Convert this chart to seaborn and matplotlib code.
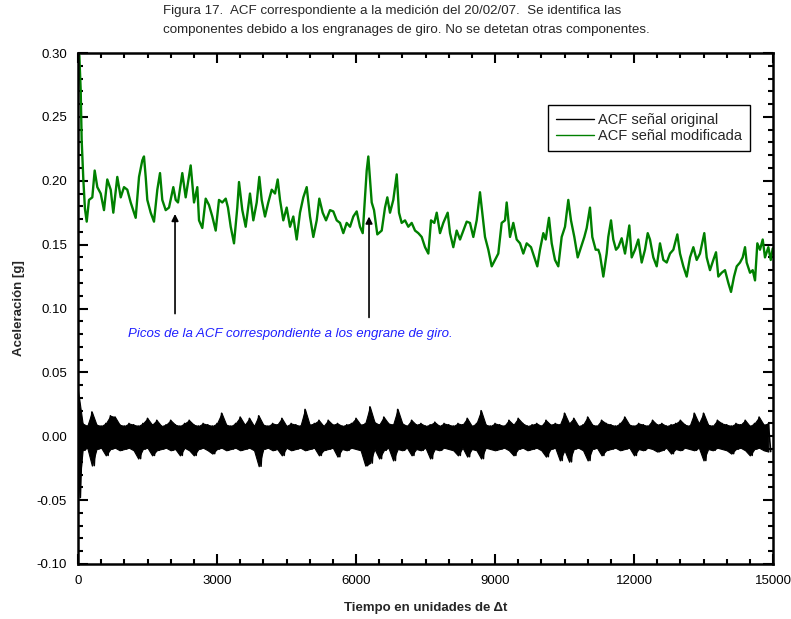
import numpy as np
import pandas as pd
import matplotlib
matplotlib.use("Agg")
import matplotlib.pyplot as plt
import seaborn as sns
from matplotlib.ticker import MultipleLocator, FormatStrFormatter

# ---------------- data ----------------
# ACF of the modified signal (green): lag, value
mod_lag = [0, 29, 58, 79, 115, 150, 188, 237, 309, 360, 417, 490, 561, 632, 706, 762,
           848, 922, 993, 1064, 1137, 1245, 1317, 1388, 1424, 1461, 1496, 1569, 1640,
           1712, 1770, 1819, 1893, 1964, 2057, 2109, 2158, 2251, 2324, 2432, 2504, 2575,
           2612, 2683, 2756, 2827, 2899, 2972, 3043, 3114, 3188, 3237, 3296, 3367, 3438,
           3475, 3546, 3619,
           3712, 3784, 3857, 3913, 3965, 4036, 4107, 4181, 4252, 4310, 4360, 4431, 4504,
           4576, 4647, 4720, 4791, 4863, 4936, 5007, 5079, 5152, 5208, 5281, 5353, 5439,
           5510, 5584, 5655, 5726, 5799, 5871, 5942, 6015, 6086, 6145, 6194, 6231, 6266,
           6302, 6339, 6389, 6460, 6555, 6626, 6676, 6734, 6805, 6879, 6928, 6986, 7058,
           7129, 7202, 7274, 7345, 7418,
           7490, 7561, 7619, 7690, 7742, 7813, 7884, 7979, 8029, 8100, 8173, 8245, 8316,
           8389, 8460, 8532, 8605, 8676, 8726, 8784, 8856, 8929, 9000, 9071, 9144, 9216,
           9252, 9324, 9395, 9468, 9540, 9611, 9684, 9777, 9849, 9913, 9971, 10043, 10094,
           10165, 10224, 10295, 10366, 10439, 10511, 10582, 10640, 10712, 10785, 10856,
           10928, 10979, 11050, 11100, 11173, 11230,
           11266, 11338, 11410, 11445, 11504, 11553, 11612, 11661, 11734, 11806, 11899,
           11950, 12022, 12093, 12166, 12237, 12296, 12345, 12417, 12490, 12561, 12633,
           12706, 12777, 12849, 12935, 12993, 13065, 13137, 13209, 13281, 13353, 13424,
           13517, 13569, 13640, 13712, 13770, 13820, 13893, 13964, 14036, 14094, 14159,
           14217, 14288, 14346, 14396, 14432, 14504, 14562, 14612, 14662, 14719, 14778,
           14827, 14900, 14951, 14994]
mod_val = [0.300, 0.298, 0.271, 0.232, 0.201, 0.178, 0.168, 0.185, 0.187, 0.208, 0.195,
           0.190, 0.177, 0.201, 0.193, 0.175, 0.203, 0.187, 0.195, 0.193, 0.183, 0.171,
           0.203, 0.216, 0.219, 0.203, 0.185, 0.175, 0.168, 0.193, 0.206, 0.185, 0.177,
           0.179, 0.195, 0.185, 0.183, 0.206, 0.187, 0.212, 0.183, 0.195, 0.169, 0.163,
           0.186, 0.181, 0.172, 0.161, 0.185, 0.183, 0.186, 0.179, 0.164, 0.151, 0.179,
           0.199, 0.177, 0.164,
           0.190, 0.169, 0.183, 0.203, 0.185, 0.172, 0.183, 0.193, 0.190, 0.201, 0.185,
           0.169, 0.179, 0.164, 0.172, 0.154, 0.175, 0.187, 0.195, 0.172, 0.156, 0.169,
           0.186, 0.175, 0.169, 0.177, 0.176, 0.169, 0.167, 0.159, 0.167, 0.164, 0.172,
           0.176, 0.164, 0.159, 0.187, 0.208, 0.219, 0.201, 0.183, 0.177, 0.158, 0.161,
           0.179, 0.187, 0.175, 0.185, 0.205, 0.175, 0.167, 0.169, 0.164, 0.167, 0.161,
           0.159, 0.156,
           0.148, 0.143, 0.169, 0.167, 0.175, 0.159, 0.167, 0.175, 0.159, 0.148, 0.161,
           0.154, 0.161, 0.168, 0.167, 0.156, 0.169, 0.191, 0.175, 0.156, 0.146, 0.133,
           0.138, 0.143, 0.167, 0.169, 0.183, 0.156, 0.167, 0.154, 0.151, 0.143, 0.151,
           0.148, 0.140, 0.133, 0.146, 0.159, 0.154, 0.171, 0.151, 0.138, 0.133, 0.156,
           0.164, 0.185, 0.169, 0.156, 0.140, 0.148, 0.156, 0.163, 0.179, 0.156, 0.146,
           0.146,
           0.142, 0.125, 0.143, 0.156, 0.169, 0.154, 0.146, 0.148, 0.155, 0.143, 0.165,
           0.140, 0.146, 0.154, 0.136, 0.146, 0.159, 0.154, 0.140, 0.133, 0.151, 0.138,
           0.136, 0.143, 0.146, 0.158, 0.143, 0.133, 0.125, 0.140, 0.148, 0.138, 0.143,
           0.159, 0.140, 0.130, 0.138, 0.144, 0.125, 0.128, 0.130, 0.120, 0.113, 0.125,
           0.133, 0.136, 0.140, 0.148, 0.136, 0.128, 0.130, 0.122, 0.151, 0.146, 0.154,
           0.140, 0.148, 0.138, 0.147]

# ACF of the original signal (black): upper peaks (at lags 0,100,...) and
# lower peaks (at lags 50,150,...) read from the dense band
orig_hi = [0.036, 0.010, 0.008, 0.019, 0.009, 0.008, 0.010, 0.016, 0.015, 0.009,
           0.008, 0.010, 0.009, 0.008, 0.010, 0.014, 0.009, 0.0125, 0.008, 0.009,
           0.0125, 0.009, 0.008, 0.010, 0.0125, 0.009, 0.008, 0.010, 0.009, 0.008,
           0.010, 0.018, 0.009, 0.008, 0.010, 0.015, 0.009, 0.014, 0.008, 0.016,
           0.009, 0.008, 0.010, 0.009, 0.014, 0.008, 0.010, 0.009, 0.008, 0.021,
           0.009, 0.010, 0.0125, 0.008, 0.0125, 0.009, 0.010, 0.008, 0.009, 0.010,
           0.014, 0.009, 0.010, 0.023, 0.011, 0.009, 0.015, 0.010, 0.009, 0.021,
           0.010, 0.008, 0.0125, 0.009, 0.010, 0.008, 0.009, 0.011, 0.008, 0.010,
           0.009, 0.008, 0.010, 0.009, 0.014, 0.008, 0.010, 0.020, 0.009, 0.008,
           0.010, 0.009, 0.008, 0.0125, 0.009, 0.014, 0.010, 0.008, 0.009, 0.010,
           0.008, 0.0125, 0.009, 0.010, 0.009, 0.018, 0.010, 0.014, 0.008, 0.009,
           0.015, 0.009, 0.008, 0.0125, 0.010, 0.009, 0.008, 0.010, 0.015, 0.009,
           0.008, 0.010, 0.009, 0.008, 0.0125, 0.009, 0.010, 0.008, 0.009, 0.010,
           0.0125, 0.009, 0.008, 0.018, 0.010, 0.018, 0.009, 0.008, 0.0125, 0.010,
           0.009, 0.008, 0.010, 0.009, 0.0125, 0.008, 0.010, 0.015, 0.009, 0.010]
orig_lo = [-0.048, -0.011, -0.009, -0.023, -0.010, -0.009, -0.015, -0.010, -0.009, -0.011,
           -0.010, -0.009, -0.011, -0.0175, -0.010, -0.009, -0.015, -0.011, -0.010, -0.009,
           -0.011, -0.010, -0.015, -0.009, -0.011, -0.015, -0.010, -0.009, -0.011, -0.0136,
           -0.010, -0.009, -0.011, -0.010, -0.009, -0.011, -0.010, -0.009, -0.011, -0.0235,
           -0.010, -0.009, -0.011, -0.010, -0.015, -0.009, -0.011, -0.010, -0.009, -0.011,
           -0.010, -0.009, -0.015, -0.011, -0.010, -0.009, -0.016, -0.010, -0.011, -0.009,
           -0.010, -0.011, -0.023, -0.021, -0.010, -0.0175, -0.011, -0.009, -0.019, -0.010,
           -0.011, -0.009, -0.015, -0.010, -0.011, -0.009, -0.0175, -0.010, -0.011, -0.009,
           -0.010, -0.011, -0.015, -0.009, -0.016, -0.010, -0.011, -0.0175, -0.009, -0.010,
           -0.011, -0.010, -0.009, -0.011, -0.015, -0.010, -0.009, -0.011, -0.010, -0.009,
           -0.011, -0.016, -0.010, -0.009, -0.019, -0.011, -0.020, -0.010, -0.009, -0.011,
           -0.019, -0.010, -0.009, -0.015, -0.011, -0.010, -0.009, -0.011, -0.010, -0.009,
           -0.015, -0.010, -0.011, -0.009, -0.010, -0.012, -0.011, -0.009, -0.0136, -0.010,
           -0.011, -0.009, -0.010, -0.011, -0.009, -0.019, -0.010, -0.011, -0.009, -0.010,
           -0.011, -0.0136, -0.010, -0.009, -0.011, -0.015, -0.010, -0.009, -0.011, -0.012]

series_names = ["ACF señal original", "ACF señal modificada"]
series_colors = ["#000000", "#008000"]

title_text = ("Figura 17.  ACF correspondiente a la medición del 20/02/07.  Se identifica las\n"
              "componentes debido a los engranages de giro. No se detetan otras componentes.")
note_text = "Picos de la ACF correspondiente a los engrane de giro."
arrow_lags = [2094, 6281]
arrow_tips = [0.174, 0.172]
arrow_tails = [0.096, 0.093]

# ---------------- build long table ----------------
n = len(orig_hi)
hi_lag = np.arange(n) * 100
lo_lag = hi_lag + 50
orig_lag = np.empty(2 * n)
orig_val = np.empty(2 * n)
orig_lag[0::2] = hi_lag
orig_lag[1::2] = lo_lag
orig_val[0::2] = orig_hi
orig_val[1::2] = orig_lo

df = pd.concat([
    pd.DataFrame({"lag": orig_lag, "val": orig_val, "serie": series_names[0]}),
    pd.DataFrame({"lag": mod_lag, "val": mod_val, "serie": series_names[1]}),
], ignore_index=True)

# ---------------- plot ----------------
sns.set_style("ticks")
plt.rcParams["font.family"] = ["Liberation Sans", "DejaVu Sans"]

fig = plt.figure(figsize=(7.91, 6.19), dpi=100)
ax = fig.add_axes([78 / 791, 1 - 564 / 619, 695 / 791, 511 / 619])

d0 = df[df.serie == series_names[0]]
sns.lineplot(data=d0, x="lag", y="val", color=series_colors[0], estimator=None,
             sort=False, linewidth=1.2, label=series_names[0], ax=ax)
# dense oscillation: fill between the upper and lower peaks so the band reads solid
ax.fill_between(hi_lag, orig_hi, orig_lo, color=series_colors[0], linewidth=0.8,
                edgecolor=series_colors[0])
sns.lineplot(data=df[df.serie == series_names[1]], x="lag", y="val",
             color=series_colors[1], estimator=None, sort=False, linewidth=1.7,
             label=series_names[1], ax=ax)

ax.set_xlim(0, 15000)
ax.set_ylim(-0.10, 0.30)
ax.xaxis.set_major_locator(MultipleLocator(3000))
ax.xaxis.set_minor_locator(MultipleLocator(500))
ax.yaxis.set_major_locator(MultipleLocator(0.05))
ax.yaxis.set_minor_locator(MultipleLocator(0.01))
ax.yaxis.set_major_formatter(FormatStrFormatter("%.2f"))
ax.tick_params(which="both", direction="in", top=True, right=True, width=1.5,
               colors="black", labelsize=9.5, pad=8)
ax.tick_params(which="major", length=7)
ax.tick_params(which="minor", length=3.5)
for s in ax.spines.values():
    s.set_linewidth(1.8)
    s.set_color("black")

ax.set_xlabel("Tiempo en unidades de Δt", fontsize=9.5, fontweight="bold", labelpad=11)
ax.set_ylabel("Aceleración [g]", fontsize=9.5, fontweight="bold", labelpad=8)

leg = ax.legend(loc="upper right", bbox_to_anchor=(0.967, 0.898), fontsize=10.5,
                frameon=True, fancybox=False, edgecolor="black", framealpha=1,
                handlelength=2.6, borderpad=0.55, labelspacing=0.15, handletextpad=0.25,
                borderaxespad=0)
leg.get_frame().set_linewidth(1.0)
for line in leg.get_lines():
    line.set_linewidth(1.0)

for xl, yt, yb in zip(arrow_lags, arrow_tips, arrow_tails):
    ax.annotate("", xy=(xl, yt), xytext=(xl, yb),
                arrowprops=dict(arrowstyle="-|>", color="black", lw=1.2,
                                mutation_scale=10, shrinkA=0, shrinkB=0))
ax.text(1079, 0.080, note_text, fontsize=9.5, style="italic", color="#1f1fff",
        ha="left", va="center")

fig.text(163 / 791, 1 - 20.5 / 619, title_text, ha="left", va="center",
         fontsize=9.6, linespacing=1.7)

fig.savefig("out.png", dpi=100)
